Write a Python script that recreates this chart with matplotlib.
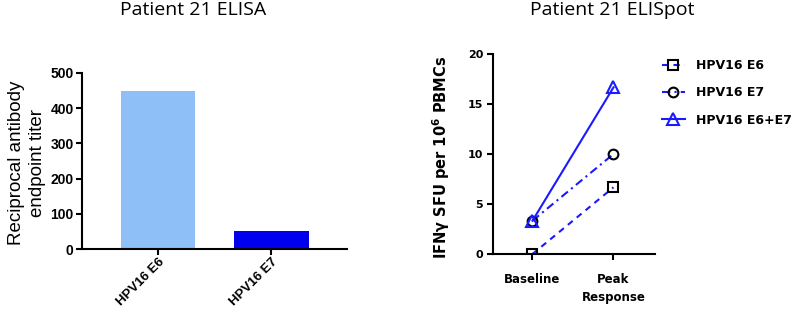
import matplotlib.pyplot as plt
import numpy as np

# ELISA data
elisa_labels = ['HPV16 E6', 'HPV16 E7']
elisa_titers = [450, 50]
elisa_colors = ['#8fbff7', '#0000f0']

# ELISpot data
timepoints = ['Baseline', 'Peak\nResponse']
e6_sfu = [0.0, 6.67]
e7_sfu = [3.33, 10.0]
e6e7_sfu = [3.33, 16.67]

plt.rcParams['font.family'] = ['Liberation Sans', 'DejaVu Sans']

fig = plt.figure(figsize=(8, 3.09), dpi=100)

# left panel: bar chart
ax1 = fig.add_axes([0.1025, 0.194, 0.3315, 0.570])
x = np.arange(len(elisa_labels))
ax1.bar(x, elisa_titers, width=0.66, color=elisa_colors)
ax1.set_xlim(-0.67, 1.67)
ax1.set_ylim(0, 500)
ax1.set_yticks([0, 100, 200, 300, 400, 500])
ax1.set_xticks(x)
ax1.set_xticklabels(elisa_labels, rotation=45, ha='right', rotation_mode='anchor',
                    fontweight='bold', fontsize=9.5)
for lab in ax1.get_yticklabels():
    lab.set_fontweight('bold')
    lab.set_fontsize(10)
ax1.spines['top'].set_visible(False)
ax1.spines['right'].set_visible(False)
for s in ['left', 'bottom']:
    ax1.spines[s].set_linewidth(1.5)
ax1.tick_params(width=1.5, length=4, pad=2)
ax1.tick_params(axis='x', pad=1)
ax1.set_ylabel('Reciprocal antibody\nendpoint titer', fontsize=13.5, linespacing=1.3)
ax1.yaxis.set_label_coords(-0.135, 0.49)

# right panel: line chart
bold_wide = {'family': 'DejaVu Sans', 'weight': 'bold'}
ax2 = fig.add_axes([0.616, 0.178, 0.2025, 0.647])
xt = np.arange(len(timepoints))
ax2.plot(xt, e6_sfu, color='#1a1aff', linestyle=(0, (3, 2.5)), linewidth=1.5,
         marker='s', markersize=7, markerfacecolor='none', markeredgecolor='black',
         markeredgewidth=1.5, label='HPV16 E6')
ax2.plot(xt, e7_sfu, color='#1a1aff', linestyle=(0, (4, 2, 1, 2)), linewidth=1.5,
         marker='o', markersize=7, markerfacecolor='none', markeredgecolor='black',
         markeredgewidth=1.5, label='HPV16 E7')
ax2.plot(xt, e6e7_sfu, color='#1a1aff', linestyle='-', linewidth=1.5,
         marker='^', markersize=8, markerfacecolor='none', markeredgecolor='#1a1aff',
         markeredgewidth=1.5, label='HPV16 E6+E7')
ax2.set_xlim(-0.49, 1.51)
ax2.set_ylim(0, 20)
ax2.set_yticks([0, 5, 10, 15, 20])
ax2.set_xticks(xt)
ax2.set_xticklabels(timepoints, fontsize=8.5, linespacing=1.45, **bold_wide)
for lab in ax2.get_yticklabels():
    lab.set_fontproperties(bold_wide)
    lab.set_fontsize(8)
ax2.spines['top'].set_visible(False)
ax2.spines['right'].set_visible(False)
for s in ['left', 'bottom']:
    ax2.spines[s].set_linewidth(1.5)
ax2.tick_params(width=1.5, length=4, pad=3)
ax2.tick_params(axis='x', pad=10)
ax2.set_ylabel('IFNγ SFU per 10$^{\\mathbf{6}}$ PBMCs', fontsize=10.5, **bold_wide)
ax2.yaxis.set_label_coords(-0.25, 0.485)

ax2.legend(loc='upper left', bbox_to_anchor=(1.043, 0.975), frameon=False,
           prop={'family': 'DejaVu Sans', 'weight': 'bold', 'size': 9},
           handlelength=1.85, handletextpad=0.85, labelspacing=1.15,
           borderpad=0, borderaxespad=0)

fig.text(0.241, 0.9515, 'Patient 21 ELISA', ha='center', va='baseline',
         fontsize=14, family='Open Sans')
fig.text(0.765, 0.9515, 'Patient 21 ELISpot', ha='center', va='baseline',
         fontsize=14, family='Open Sans')

fig.savefig('out.png', dpi=100)
